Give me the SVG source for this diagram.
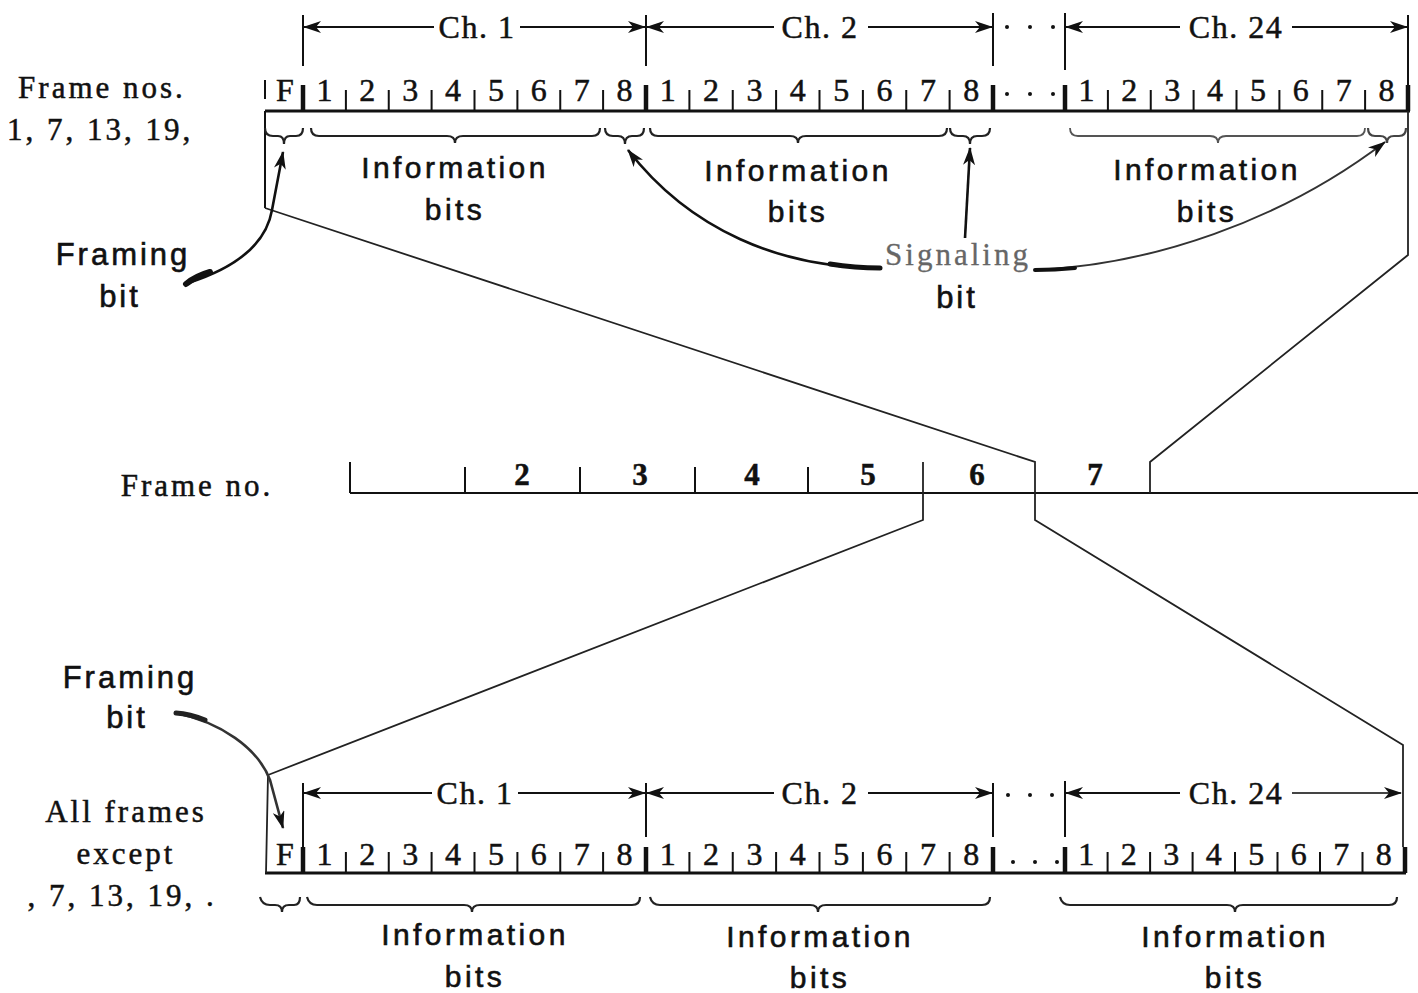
<svg xmlns="http://www.w3.org/2000/svg" width="1418" height="993" viewBox="0 0 1418 993">
<style>
.bg{fill:#fff}
.serif{font-family:"Liberation Serif","Times New Roman",serif;fill:#111;stroke:#111;stroke-width:0.5}
.sans{font-family:"Liberation Sans",Arial,sans-serif;fill:#111;stroke:#111;stroke-width:0.6}
.lbl{font-size:31px;letter-spacing:3px;text-anchor:middle}
.info{font-size:30px;letter-spacing:3.4px;text-anchor:middle}
.dig{font-size:32px;text-anchor:middle}
.ch{font-size:32px;letter-spacing:1.5px;text-anchor:middle}
.fn{font-size:31px;font-weight:bold;text-anchor:middle}
.base{stroke:#111;stroke-width:3;fill:none}
.tick{stroke:#111;stroke-width:2;fill:none}
.thick{stroke:#111;stroke-width:4.5;fill:none}
.thin{stroke:#222;stroke-width:1.8;fill:none}
.brace{stroke:#222;stroke-width:2.2;fill:none}
.arr{stroke:#111;stroke-width:2;fill:none}
.curve{stroke:#111;stroke-width:2.6;fill:none}
.dot{fill:#111}
</style>
<defs>
<marker id="ah" viewBox="0 0 18 12" refX="17" refY="6" markerWidth="18" markerHeight="12" markerUnits="userSpaceOnUse" orient="auto-start-reverse">
<path d="M0,0 L18,6 L0,12 L5,6 Z" fill="#111"/>
</marker>
</defs>
<rect class="bg" width="1418" height="993"/>

<g id="top-frame">
<text class="serif lbl" x="102" y="98">Frame nos.</text>
<text class="serif lbl" x="100" y="140">1, 7, 13, 19,</text>
<line class="base" x1="265" y1="111" x2="1410" y2="111"/>
<line class="tick" x1="265" y1="80" x2="265" y2="99"/>
<line class="tick" x1="265" y1="111" x2="265" y2="208"/>
<text class="serif dig" x="285" y="101">F</text>
<g id="top-ticks">
<path class="tick" d="M345.9 90V111M388.75 90V111M431.6 90V111M474.5 90V111M517.4 90V111M560.25 90V111M603.1 90V111"/>
<path class="tick" d="M689.4 90V111M732.75 90V111M776.1 90V111M819.5 90V111M862.9 90V111M906.25 90V111M949.6 90V111"/>
<path class="tick" d="M1107.9 90V111M1150.75 90V111M1193.6 90V111M1236.5 90V111M1279.4 90V111M1322.25 90V111M1365.1 90V111"/>
<path class="thick" d="M303 85V111M646 85V111M993 85V111M1065 85V111M1408 85V111"/>
<path class="tick" d="M303 15V66M646 15V66M993 13V66M1065 13V70M1408 15V85"/>
</g>
<g class="serif dig">
<text x="324.4" y="101">1</text><text x="367.3" y="101">2</text><text x="410.2" y="101">3</text><text x="453.1" y="101">4</text><text x="495.9" y="101">5</text><text x="538.8" y="101">6</text><text x="581.7" y="101">7</text><text x="624.6" y="101">8</text>
<text x="667.7" y="101">1</text><text x="711.1" y="101">2</text><text x="754.4" y="101">3</text><text x="797.8" y="101">4</text><text x="841.2" y="101">5</text><text x="884.6" y="101">6</text><text x="927.9" y="101">7</text><text x="971.3" y="101">8</text>
<text x="1086.4" y="101">1</text><text x="1129.3" y="101">2</text><text x="1172.2" y="101">3</text><text x="1215.1" y="101">4</text><text x="1257.9" y="101">5</text><text x="1300.8" y="101">6</text><text x="1343.7" y="101">7</text><text x="1386.6" y="101">8</text>
</g>
<circle class="dot" cx="1007" cy="94" r="2"/><circle class="dot" cx="1030" cy="94" r="2"/><circle class="dot" cx="1053" cy="94" r="2"/>
<circle class="dot" cx="1007" cy="27" r="2"/><circle class="dot" cx="1030" cy="27" r="2"/><circle class="dot" cx="1053" cy="27" r="2"/>
<text class="serif ch" x="477" y="38">Ch. 1</text>
<text class="serif ch" x="820" y="38">Ch. 2</text>
<text class="serif ch" x="1236" y="38">Ch. 24</text>
<path class="arr" d="M434 27H304" marker-end="url(#ah)"/>
<path class="arr" d="M520 27H645" marker-end="url(#ah)"/>
<path class="arr" d="M774 27H647" marker-end="url(#ah)"/>
<path class="arr" d="M868 27H992" marker-end="url(#ah)"/>
<path class="arr" d="M1180 27H1066" marker-end="url(#ah)"/>
<path class="arr" d="M1292 27H1407" marker-end="url(#ah)"/>
<g id="top-braces">
<path class="brace" d="M265 128Q265 136 273 136L278 136Q284 136 284 144Q284 136 290 136L296 136Q303 136 303 128"/>
<path class="brace" d="M311 128Q311 136 319 136L447 136Q455 136 455 143Q455 136 463 136L592 136Q600 136 600 128"/>
<path class="brace" d="M605 128Q605 136 613 136L618 136Q625 136 625 144Q625 136 632 136L637 136Q644 136 644 128"/>
<path class="brace" d="M650 128Q650 136 658 136L790 136Q798 136 798 143Q798 136 806 136L939 136Q947 136 947 128"/>
<path class="brace" d="M950 128Q950 136 958 136L963 136Q970 136 970 144Q970 136 977 136L982 136Q990 136 990 128"/>
<path class="brace" style="stroke:#555;stroke-width:1.8" d="M1070 128Q1070 136 1078 136L1210 136Q1218 136 1218 143Q1218 136 1226 136L1357 136Q1365 136 1365 128"/>
<path class="brace" style="stroke:#444" d="M1368 128Q1368 136 1375 136L1380 136Q1387 136 1387 143Q1387 136 1394 136L1399 136Q1406 136 1406 128"/>
</g>
<text class="sans info" x="455" y="178">Information</text>
<text class="sans info" x="455" y="220">bits</text>
<text class="sans info" x="798" y="181">Information</text>
<text class="sans info" x="798" y="222">bits</text>
<text class="sans info" x="1207" y="180">Information</text>
<text class="sans info" x="1207" y="222">bits</text>
</g>

<g id="framing-top">
<text class="sans lbl" x="123" y="265">Framing</text>
<text class="sans lbl" x="120" y="307">bit</text>
</g>
<g id="signaling">
<text class="serif lbl" style="fill:#666;stroke:#666;stroke-width:0.3" x="958" y="265">Signaling</text>
<text class="sans lbl" x="957" y="308">bit</text>
</g>

<g id="frame-line">
<text class="serif lbl" x="197" y="496">Frame no.</text>
<line class="tick" x1="350" y1="493" x2="1418" y2="493"/>
<path class="tick" d="M350 462V493M465 467V493M580 467V493M695 467V493M808 467V493"/>
<g class="serif fn">
<text x="522" y="485">2</text><text x="640" y="485">3</text><text x="752" y="485">4</text><text x="868" y="485">5</text><text x="977" y="485">6</text><text x="1095" y="485">7</text>
</g>
</g>

<g id="bottom-frame">
<text class="serif lbl" x="126" y="822">All frames</text>
<text class="serif lbl" x="126" y="864">except</text>
<text class="serif lbl" x="122" y="906">, 7, 13, 19, .</text>
<line class="base" x1="265" y1="873" x2="1406" y2="873"/>
<text class="serif dig" x="285" y="865">F</text>
<path class="tick" d="M345.9 852V873M388.75 852V873M431.6 852V873M474.5 852V873M517.4 852V873M560.25 852V873M603.1 852V873"/>
<path class="tick" d="M689.4 852V873M732.75 852V873M776.1 852V873M819.5 852V873M862.9 852V873M906.25 852V873M949.6 852V873"/>
<path class="tick" d="M1107.6 852V873M1150.1 852V873M1192.6 852V873M1235 852V873M1277.5 852V873M1320 852V873M1362.5 852V873"/>
<path class="thick" d="M303 847V873M646 847V873M993 847V873M1065 847V873M1405 847V873"/>
<path class="tick" d="M303 783V847M646 783V837M993 783V837M1065 781V837"/>
<g class="serif dig">
<text x="324.4" y="865">1</text><text x="367.3" y="865">2</text><text x="410.2" y="865">3</text><text x="453.1" y="865">4</text><text x="495.9" y="865">5</text><text x="538.8" y="865">6</text><text x="581.7" y="865">7</text><text x="624.6" y="865">8</text>
<text x="667.7" y="865">1</text><text x="711.1" y="865">2</text><text x="754.4" y="865">3</text><text x="797.8" y="865">4</text><text x="841.2" y="865">5</text><text x="884.6" y="865">6</text><text x="927.9" y="865">7</text><text x="971.3" y="865">8</text>
<text x="1086.3" y="865">1</text><text x="1128.8" y="865">2</text><text x="1171.3" y="865">3</text><text x="1213.8" y="865">4</text><text x="1256.2" y="865">5</text><text x="1298.7" y="865">6</text><text x="1341.2" y="865">7</text><text x="1383.7" y="865">8</text>
</g>
<circle class="dot" cx="1013" cy="862" r="2"/><circle class="dot" cx="1035" cy="862" r="2"/><circle class="dot" cx="1057" cy="862" r="2"/>
<circle class="dot" cx="1008" cy="795" r="2"/><circle class="dot" cx="1030" cy="795" r="2"/><circle class="dot" cx="1052" cy="795" r="2"/>
<text class="serif ch" x="475" y="804">Ch. 1</text>
<text class="serif ch" x="820" y="804">Ch. 2</text>
<text class="serif ch" x="1236" y="804">Ch. 24</text>
<path class="arr" d="M432 793H304" marker-end="url(#ah)"/>
<path class="arr" d="M518 793H645" marker-end="url(#ah)"/>
<path class="arr" d="M774 793H647" marker-end="url(#ah)"/>
<path class="arr" d="M868 793H992" marker-end="url(#ah)"/>
<path class="arr" d="M1180 793H1066" marker-end="url(#ah)"/>
<path class="arr" style="stroke:#444" d="M1292 793H1401" marker-end="url(#ah)"/>
<g id="bottom-braces">
<path class="brace" d="M260 897Q262 905 270 905L275 905Q282 905 282 912Q282 905 289 905L294 905Q300 905 300 897"/>
<path class="brace" d="M307 897Q309 905 317 905L464 905Q472 905 472 912Q472 905 480 905L632 905Q640 905 640 897"/>
<path class="brace" d="M650 897Q652 905 660 905L810 905Q818 905 818 912Q818 905 826 905L982 905Q990 905 990 897"/>
<path class="brace" d="M1060 897Q1062 905 1070 905L1227 905Q1235 905 1235 912Q1235 905 1243 905L1389 905Q1397 905 1397 897"/>
</g>
<text class="sans info" x="475" y="945">Information</text>
<text class="sans info" x="475" y="987">bits</text>
<text class="sans info" x="820" y="947">Information</text>
<text class="sans info" x="820" y="988">bits</text>
<text class="sans info" x="1235" y="947">Information</text>
<text class="sans info" x="1235" y="988">bits</text>
</g>

<g id="framing-bottom">
<text class="sans lbl" x="130" y="688">Framing</text>
<text class="sans lbl" x="127" y="728">bit</text>
</g>

<g id="connectors">
<polyline class="thin" points="265,208 1035,462 1035,520 1403,745 1403,847"/>
<polyline class="thin" points="1408,111 1408,255 1150,462 1150,493"/>
<polyline class="thin" points="923,462 923,520 268,775 266,873"/>
<path class="curve" d="M188 283C235 268 266 245 272 210L283 152" marker-end="url(#ah)"/>
<path d="M186 284Q196 276 210 272" stroke="#111" stroke-width="6" fill="none" stroke-linecap="round"/>
<path class="curve" d="M880 268C780 268 690 230 628 150" marker-end="url(#ah)"/>
<path d="M880 268Q855 268 830 264" stroke="#111" stroke-width="5" fill="none" stroke-linecap="round"/>
<path class="curve" d="M965 238L970 148" marker-end="url(#ah)"/>
<path class="curve" style="stroke:#333;stroke-width:2" d="M1035 270C1150 265 1280 222 1385 142" marker-end="url(#ah)"/>
<path d="M1035 270Q1055 270 1075 268" stroke="#111" stroke-width="4" fill="none" stroke-linecap="round"/>
<path class="curve" style="stroke:#333" d="M176 713C220 722 258 748 270 780L283 828" marker-end="url(#ah)"/>
<path d="M176 713Q190 714 205 720" stroke="#222" stroke-width="5" fill="none" stroke-linecap="round"/>
</g>
</svg>
